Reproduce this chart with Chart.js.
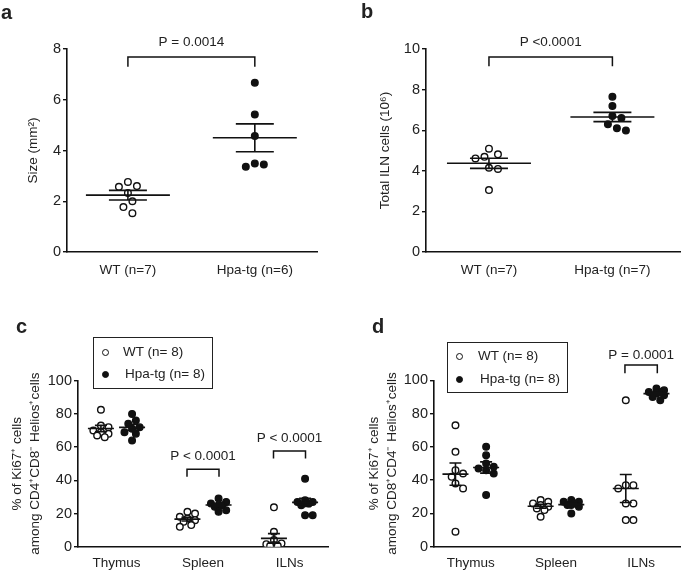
<!DOCTYPE html>
<html>
<head>
<meta charset="utf-8">
<script src="https://cdn.jsdelivr.net/npm/chart.js@4.4.1/dist/chart.umd.min.js"></script>
<style>
  body { margin: 0; background: #fff; }
  #fig { position: relative; width: 685px; height: 574px; overflow: hidden; font-family: "Liberation Sans", Arial, sans-serif; color: #222; }
  canvas { position: absolute; }
  .tag { position: absolute; font-weight: bold; font-size: 20px; line-height: 1; }
  .legend { position: absolute; border: 1.5px solid #222; box-sizing: border-box; }
  .legend .dot { position: absolute; width: 7px; height: 7px; border-radius: 50%; box-sizing: border-box; border: 1.4px solid #111; }
  .legend .txt { position: absolute; font-size: 13.5px; height: 16px; line-height: 16px; white-space: nowrap; }
</style>
</head>
<body>
<div id="fig">
  <canvas id="chartA" width="340" height="290" style="left:0;top:0"></canvas>
  <canvas id="chartB" width="345" height="290" style="left:340px;top:0"></canvas>
  <canvas id="chartC" width="340" height="284" style="left:0;top:290px"></canvas>
  <canvas id="chartD" width="345" height="284" style="left:340px;top:290px"></canvas>

  <div class="tag" style="left:1px;top:2px">a</div>
  <div class="tag" style="left:361px;top:1px">b</div>
  <div class="tag" style="left:16px;top:316px">c</div>
  <div class="tag" style="left:372px;top:316px">d</div>

  <div class="legend" style="left:93px;top:337px;width:120px;height:52px">
    <span class="dot" style="left:8px;top:11px;background:#fff"></span>
    <span class="txt" style="left:29px;top:6px">WT (n= 8)</span>
    <span class="dot" style="left:8px;top:33px;background:#111"></span>
    <span class="txt" style="left:31px;top:28px">Hpa-tg (n= 8)</span>
  </div>
  <div class="legend" style="left:447px;top:342px;width:121px;height:51px">
    <span class="dot" style="left:8px;top:10px;background:#fff"></span>
    <span class="txt" style="left:30px;top:5px">WT (n= 8)</span>
    <span class="dot" style="left:8px;top:33px;background:#111"></span>
    <span class="txt" style="left:32px;top:28px">Hpa-tg (n= 8)</span>
  </div>
</div>

<script>
// panel a - lesion size
const aGroups = ['WT (n=7)', 'Hpa-tg (n=6)'];
const aWT = [2.76, 2.6, 2.57, 2.33, 2.0, 1.77, 1.53];
const aHpa = [6.67, 5.42, 4.57, 3.49, 3.45, 3.36];
const aMean = [2.24, 4.5];
const aSem = [0.19, 0.55];

// panel b - total ILN cells
const bGroups = ['WT (n=7)', 'Hpa-tg (n=7)'];
const bWT = [5.09, 4.81, 4.69, 4.61, 4.15, 4.09, 3.05];
const bHpa = [7.65, 7.19, 6.7, 6.6, 6.29, 6.09, 5.98];
const bMean = [4.37, 6.65];
const bSem = [0.25, 0.23];

// panels c/d - Ki67+ Treg cells per tissue
const tissues = ['Thymus', 'Spleen', 'ILNs'];
const cWT = [
  [82.5, 73, 72, 70, 69, 68, 67, 66],
  [21, 20, 18, 17, 16, 15, 13, 12],
  [23.7, 9, 4, 2, 1.5, 1, 0.5, 0.5]
];
const cHpa = [
  [80, 76, 74, 72, 71, 69, 68, 64],
  [29, 27, 26, 25, 25, 24, 22, 21],
  [41, 28, 27, 27, 26, 25, 19, 19]
];
const cMeanWT = [71.2, 16.6, 5.0];
const cSemWT = [1.9, 1.1, 2.9];
const cMeanHpa = [71.9, 25.1, 26.7];
const cSemHpa = [1.8, 0.9, 2.4];

const dWT = [
  [73, 57, 46, 44, 42, 38, 35, 9],
  [28, 27, 26, 25, 24, 23, 22, 18],
  [88, 37, 37, 35, 26, 26, 16, 16]
];
const dHpa = [
  [60, 55, 50, 48, 47, 46, 44, 31],
  [28, 27, 27, 26, 25, 25, 24, 20],
  [95, 94, 93, 93, 92, 91, 90, 88]
];
const dMeanWT = [43.6, 24.3, 35];
const dSemWT = [6.7, 1.2, 8.4];
const dMeanHpa = [47.6, 25.3, 92];
const dSemHpa = [3.4, 0.9, 0.9];

const FONT = '"Liberation Sans", Arial, sans-serif';
const INK = '#111';
const TXT = '#222';

// mean +/- SEM lines and significance brackets, drawn through the scales
function overlay(o) {
  return {
    id: 'overlay',
    afterDatasetsDraw(chart) {
      const { ctx, scales: { x, y } } = chart;
      ctx.save();
      ctx.strokeStyle = INK;
      ctx.lineWidth = 1.6;
      o.clusters.forEach(c => {
        const cx = x.getPixelForValue(c.x);
        const m = y.getPixelForValue(c.mean);
        const hi = y.getPixelForValue(c.mean + c.sem);
        const lo = y.getPixelForValue(c.mean - c.sem);
        ctx.beginPath();
        ctx.moveTo(cx - o.meanHalf, m); ctx.lineTo(cx + o.meanHalf, m);
        ctx.moveTo(cx, hi); ctx.lineTo(cx, lo);
        ctx.moveTo(cx - o.capHalf, hi); ctx.lineTo(cx + o.capHalf, hi);
        ctx.moveTo(cx - o.capHalf, lo); ctx.lineTo(cx + o.capHalf, lo);
        ctx.stroke();
      });
      ctx.lineWidth = 1.5;
      ctx.fillStyle = TXT;
      ctx.font = '13.5px ' + FONT;
      ctx.textAlign = 'center';
      ctx.textBaseline = 'middle';
      o.brackets.forEach(b => {
        const x1 = x.getPixelForValue(b.x1), x2 = x.getPixelForValue(b.x2);
        const top = y.getPixelForValue(b.top), drop = y.getPixelForValue(b.drop);
        ctx.beginPath();
        ctx.moveTo(x1, drop); ctx.lineTo(x1, top); ctx.lineTo(x2, top); ctx.lineTo(x2, drop);
        ctx.stroke();
        ctx.fillText(b.text, (x1 + x2) / 2, y.getPixelForValue(b.textY));
      });
      ctx.restore();
    }
  };
}

// spread points of one cluster sideways (limited width, overlap allowed when crowded)
function beeswarm(chart, gap, maxOff) {
  const xs = chart.scales.x, ys = chart.scales.y;
  const unit = xs.getPixelForValue(1) - xs.getPixelForValue(0);
  const steps = [];
  for (let k = 0; ; k++) {
    const off = (k % 2 ? 1 : -1) * Math.ceil(k / 2) * gap / 2;
    if (Math.abs(off) > maxOff + 0.01) break;
    steps.push(off);
  }
  chart.data.datasets.forEach(ds => {
    const groups = {};
    ds.data.forEach(p => (groups[p.g] = groups[p.g] || []).push(p));
    Object.values(groups).forEach(pts => {
      const placed = [];
      pts.slice().sort((a, b) => b.y - a.y).forEach(p => {
        const py = ys.getPixelForValue(p.y);
        let best = 0, bestD = -1;
        for (const off of steps) {
          const d = placed.length ? Math.min(...placed.map(q => Math.hypot(q.dx - off, q.py - py))) : Infinity;
          if (d >= gap) { best = off; break; }
          if (d > bestD + 0.5) { bestD = d; best = off; }
        }
        placed.push({ dx: best, py });
        p.x = p.g + best / unit;
      });
    });
  });
  chart.update('none');
}

function dotChart(id, o) {
  const datasets = [false, true].map(filled => ({
    type: 'scatter',
    data: o.clusters.filter(c => c.filled === filled)
      .flatMap(c => c.values.map(v => ({ x: c.x, y: v, g: c.x }))),
    pointRadius: 3.3,
    pointHoverRadius: 3.3,
    pointBorderWidth: 1.4,
    pointBorderColor: INK,
    pointBackgroundColor: filled ? INK : '#fff'
  }));

  const chart = new Chart(document.getElementById(id), {
    type: 'scatter',
    data: { datasets },
    options: {
      responsive: false,
      animation: false,
      events: [],
      layout: { padding: { top: o.top, right: o.right, left: 0, bottom: 0 } },
      plugins: { legend: { display: false }, tooltip: { enabled: false } },
      scales: {
        x: {
          type: 'linear',
          min: o.xMin,
          max: o.xMax,
          afterBuildTicks: s => { s.ticks = o.tickPos.map(v => ({ value: v })); },
          afterFit: s => { s.height = o.xh; },
          ticks: {
            autoSkip: false,
            maxRotation: 0,
            padding: o.xPad,
            color: TXT,
            font: { family: FONT, size: 13.5 },
            callback: v => o.labels[o.tickPos.indexOf(v)]
          },
          grid: { display: false, drawTicks: false },
          border: { color: INK, width: 1.6 }
        },
        y: {
          min: o.yMin,
          max: o.yMax,
          afterFit: s => { s.width = o.yw; },
          ticks: {
            stepSize: o.step,
            padding: 2,
            color: TXT,
            font: { family: FONT, size: 14.5 }
          },
          grid: { drawOnChartArea: false, tickLength: 4, color: INK, lineWidth: 1.4 },
          border: { color: INK, width: 1.6 },
          title: {
            display: true,
            text: o.yTitle,
            color: TXT,
            font: { family: FONT, size: 13.5, lineHeight: 1.3 },
            padding: { top: o.titlePad, bottom: 0 }
          }
        }
      }
    },
    plugins: [overlay(o)]
  });
  beeswarm(chart, o.gap, o.maxOff);
  return chart;
}

dotChart('chartA', {
  clusters: [
    { x: 1, values: aWT, mean: aMean[0], sem: aSem[0], filled: false },
    { x: 2, values: aHpa, mean: aMean[1], sem: aSem[1], filled: true }
  ],
  brackets: [{ x1: 1, x2: 2, top: 7.68, drop: 7.3, textY: 8.25, text: 'P = 0.0014' }],
  meanHalf: 42, capHalf: 19, gap: 9, maxOff: 15,
  tickPos: [1, 2], labels: aGroups,
  xMin: 0.52, xMax: 2.49, yMin: 0, yMax: 8, step: 2,
  yTitle: 'Size (mm²)', titlePad: 25,
  top: 49, right: 23, xh: 38, yw: 67, xPad: 10
});

dotChart('chartB', {
  clusters: [
    { x: 1, values: bWT, mean: bMean[0], sem: bSem[0], filled: false },
    { x: 2, values: bHpa, mean: bMean[1], sem: bSem[1], filled: true }
  ],
  brackets: [{ x1: 1, x2: 2, top: 9.6, drop: 9.15, textY: 10.32, text: 'P <0.0001' }],
  meanHalf: 42, capHalf: 19, gap: 9, maxOff: 15,
  tickPos: [1, 2], labels: bGroups,
  xMin: 0.49, xMax: 2.55, yMin: 0, yMax: 10, step: 2,
  yTitle: 'Total ILN cells (10⁶)', titlePad: 37,
  top: 49, right: 4, xh: 38, yw: 86, xPad: 10
});

function tissueClusters(wt, hpa, mWT, sWT, mHpa, sHpa) {
  return tissues.flatMap((t, i) => [
    { x: i + 1 - 0.18, values: wt[i], mean: mWT[i], sem: sWT[i], filled: false },
    { x: i + 1 + 0.18, values: hpa[i], mean: mHpa[i], sem: sHpa[i], filled: true }
  ]);
}

dotChart('chartC', {
  clusters: tissueClusters(cWT, cHpa, cMeanWT, cSemWT, cMeanHpa, cSemHpa),
  brackets: [
    { x1: 1.815, x2: 2.185, top: 46.6, drop: 42.2, textY: 54.2, text: 'P < 0.0001' },
    { x1: 2.815, x2: 3.185, top: 57.6, drop: 53.2, textY: 65.5, text: 'P < 0.0001' }
  ],
  meanHalf: 13, capHalf: 6, gap: 7.6, maxOff: 9,
  tickPos: [1, 2, 3], labels: tissues,
  xMin: 0.555, xMax: 3.445, yMin: 0, yMax: 100, step: 20,
  yTitle: ['% of Ki67⁺ cells', 'among CD4⁺CD8⁻ Helios⁺cells'], titlePad: 9,
  top: 90.7, right: 12, xh: 27.3, yw: 78, xPad: 8
});

dotChart('chartD', {
  clusters: tissueClusters(dWT, dHpa, dMeanWT, dSemWT, dMeanHpa, dSemHpa),
  brackets: [
    { x1: 2.81, x2: 3.19, top: 109.2, drop: 104.2, textY: 115, text: 'P = 0.0001' }
  ],
  meanHalf: 13, capHalf: 6, gap: 7.6, maxOff: 9,
  tickPos: [1, 2, 3], labels: tissues,
  xMin: 0.568, xMax: 3.46, yMin: 0, yMax: 100, step: 20,
  yTitle: ['% of Ki67⁺ cells', 'among CD8⁺CD4⁻ Helios⁺cells'], titlePad: 26,
  top: 90.3, right: 0, xh: 27.3, yw: 94, xPad: 8
});
</script>
</body>
</html>
